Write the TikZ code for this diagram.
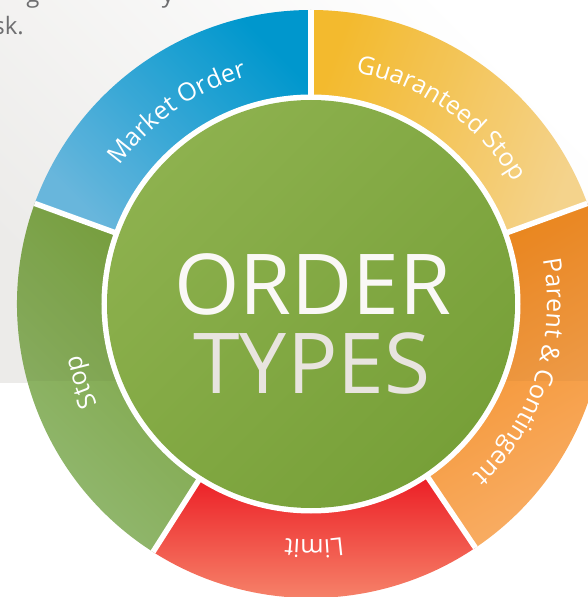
\documentclass[tikz,border=0pt]{standalone}
\usepackage{fontspec}
\setmainfont{Open Sans}
\usetikzlibrary{decorations.text}
\definecolor{bgGray}{HTML}{ECEBE9}
\definecolor{txtGray}{HTML}{6E6E70}
\definecolor{blueL}{HTML}{6CBDE5}
\definecolor{blueM}{HTML}{0AA3D9}
\definecolor{blueD}{HTML}{009DD5}
\definecolor{yelL}{HTML}{FDDB92}
\definecolor{yelM}{HTML}{FDCB58}
\definecolor{yelD}{HTML}{FCC130}
\definecolor{oraL}{HTML}{F9AF68}
\definecolor{oraD}{HTML}{F28A1E}
\definecolor{redT}{HTML}{EC1F26}
\definecolor{redM}{HTML}{F26A4D}
\definecolor{redB}{HTML}{F78F72}
\definecolor{stopL}{HTML}{94BA75}
\definecolor{stopD}{HTML}{7AA23D}
\definecolor{cenA}{HTML}{8DB14E}
\definecolor{cenB}{HTML}{A6C86E}
\definecolor{cenC}{HTML}{77A038}
\definecolor{ordTop}{HTML}{FAF8F6}
\definecolor{typTop}{HTML}{E8E4DF}
\newcommand\ringfont{\fontsize{25}{25}\selectfont}
\newcommand\ringsector[3]{\shade[#3] (#1:209) arc[start angle=#1,end angle=#2,radius=209] -- (#2:294) arc[start angle=#2,end angle=#1,radius=294] -- cycle;}
\tikzset{
  ringlabel/.style={decorate, decoration={text along path, text align=center, text color=white, text={|\ringfont|#1}}},
  fragment/.style={text=txtGray, font=\fontsize{24}{24}\selectfont, inner sep=0pt},
  sepline/.style={white, line width=5.5pt},
  bigword/.style={font=\fontsize{84}{84}\selectfont, inner sep=0pt, anchor=base}
}
\begin{document}
\begin{tikzpicture}[x=1pt,y=1pt]
\useasboundingbox (-311,-293) rectangle (277,304);
% background band
\shade[top color=white, bottom color=bgGray, shading angle=-45] (-311,304) rectangle (277,-78);
% cut text fragments
\begin{scope}
\clip (-311,-293) rectangle (277,304);
\node[fragment, anchor=base east] (risk) at (-287,269) {sk.};
\node[fragment, anchor=base] (fragG) at (-278,301) {g};
\node[fragment, anchor=base] (fragY) at (-143,301) {y};
\end{scope}
% ring sectors
\ringsector{90}{160}{top color=blueL, middle color=blueM, bottom color=blueD, shading angle=135}
\ringsector{160}{237.5}{top color=stopL, bottom color=stopD, shading angle=135}
\ringsector{237.5}{304}{top color=redT, middle color=redM, bottom color=redB}
\ringsector{304}{380}{top color=oraL, bottom color=oraD, shading angle=-150}
\ringsector{20}{90}{top color=yelL, middle color=yelM, bottom color=yelD, shading angle=-110}
% band overlay on ring
\begin{scope}
\clip (-311,304) rectangle (277,-76);
\fill[black, opacity=0.035, even odd rule] (0,0) circle (294) (0,0) circle (209);
\end{scope}
% separators
\foreach \a in {20,90,160,237.5,304} \draw[sepline] (\a:200) -- (\a:294);
% centre disk
\fill[white] (0,0) circle (209.5);
\shade[top color=cenA, middle color=cenB, bottom color=cenC, shading angle=45] (0,0) circle (204);
% title
\node[bigword, text=ordTop] (order) at (2,-11) {ORDER};
\node[bigword, text=typTop] (types) at (1,-89) {TYPES};
% ring labels
\path[ringlabel={Market Order}] (160:236) arc[start angle=160,end angle=90,radius=236];
\path[ringlabel={Guaranteed Stop}] (90:236) arc[start angle=90,end angle=20,radius=236];
\path[ringlabel={Parent {\&} Contingent}] (20:236) arc[start angle=20,end angle=-56,radius=236];
\path[ringlabel={Limit}] (-56:236) arc[start angle=-56,end angle=-122.5,radius=236];
\path[ringlabel={Stop}] (-122.5:236) arc[start angle=-122.5,end angle=-200,radius=236];
\end{tikzpicture}
\end{document}
